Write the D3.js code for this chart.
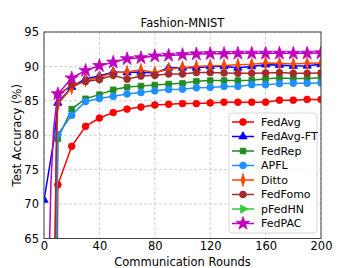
<!DOCTYPE html>
<html><head><meta charset="utf-8">
<script src="https://cdn.jsdelivr.net/npm/d3@7"></script>
<style>body{margin:0;background:#fff}svg{display:block}text{font-family:"DejaVu Sans",sans-serif}</style>
</head><body><svg id="c" width="357" height="268"></svg>
<script>
const title = "Fashion-MNIST";
const xLabel = "Communication Rounds";
const yLabel = "Test Accuracy (%)";
const xTicks = [0, 40, 80, 120, 160, 200];
const yTicks = [65, 70, 75, 80, 85, 90, 95];
const rounds = [0, 3, 5, 7, 9, 10, 20, 30, 40, 50, 60, 70, 80, 90, 100, 110, 120, 130, 140, 150, 160, 170, 180, 190, 200];
const seriesNames = ["FedAvg", "FedAvg-FT", "FedRep", "APFL", "Ditto", "FedFomo", "pFedHN", "FedPAC"];
const fedAvg   = [10, 20, 30, 40, 50, 72.8, 78.4, 81.3, 82.5, 83.3, 83.8, 84.1, 84.4, 84.5, 84.6, 84.6, 84.7, 84.8, 84.8, 84.8, 84.8, 85.1, 85.1, 85.2, 85.2];
const fedAvgFT = [70.6, 74.2, 76.7, 79.1, 82.5, 84.7, 87.0, 88.2, 88.6, 89.2, 89.1, 89.2, 89.0, 89.8, 89.8, 89.8, 90.0, 90.0, 89.8, 90.0, 90.25, 90.2, 90.05, 90.1, 90.3];
const fedRep   = [10, 20, 30, 45, 62, 79.5, 83.8, 85.3, 85.9, 86.6, 87.0, 87.15, 87.3, 87.45, 87.55, 87.85, 87.95, 87.95, 87.95, 88.0, 88.2, 88.3, 88.25, 88.25, 88.35];
const apfl     = [10, 20, 30, 45, 63, 80.1, 82.9, 84.9, 85.35, 85.65, 86.0, 86.2, 86.45, 86.65, 86.7, 86.9, 86.95, 87.1, 87.1, 87.35, 87.35, 87.5, 87.55, 87.55, 87.6];
const ditto    = [10, 20, 30, 50, 78, 84.5, 86.9, 88.0, 88.4, 89.1, 89.2, 89.5, 89.1, 89.6, 89.85, 90.0, 90.1, 90.15, 90.25, 90.3, 90.5, 90.45, 90.35, 90.45, 90.5];
const fedFomo  = [10, 20, 30, 52, 80, 85.8, 87.3, 87.8, 88.1, 88.7, 88.15, 88.6, 88.7, 88.9, 88.9, 89.1, 89.1, 89.05, 89.0, 89.0, 89.05, 89.1, 89.0, 89.0, 89.05];
const pFedHN   = [10, 20, 30, 40, 50, 55, 58, 59, 60, 60, 61, 61, 61, 62, 62, 62, 62, 62, 63, 63, 63, 63, 63, 63, 63];
const fedPAC   = [10, 55, 73, 81, 84.5, 86.0, 88.3, 89.4, 90.1, 90.6, 91.1, 91.25, 91.5, 91.6, 91.7, 91.8, 91.85, 91.85, 91.9, 91.9, 91.9, 91.9, 91.9, 91.9, 91.95];
const colors = ["#ff0000", "#0000ff", "#228b22", "#1e90ff", "#ff4500", "#a52a2a", "#32cd32", "#bf00bf"];
const markers = ["circle", "triangle", "square", "circle", "diamond", "circle", "right", "star"];

const allValues = [fedAvg, fedAvgFT, fedRep, apfl, ditto, fedFomo, pFedHN, fedPAC];
const svg = d3.select("#c");
const m = {l: 44, r: 321, t: 32, b: 238.5};
const x = d3.scaleLinear().domain([0, 200]).range([m.l, m.r]);
const y = d3.scaleLinear().domain([65, 95]).range([m.b, m.t]);

svg.append("defs").append("clipPath").attr("id", "clip")
  .append("rect").attr("x", m.l).attr("y", m.t).attr("width", m.r - m.l).attr("height", m.b - m.t);

// grid
const g = svg.append("g");
g.selectAll(".gx").data(xTicks).join("line")
  .attr("x1", d => x(d)).attr("x2", d => x(d)).attr("y1", m.t).attr("y2", m.b)
  .attr("stroke", "#c4c4c4").attr("stroke-width", 0.8).attr("stroke-dasharray", "3,2");
g.selectAll(".gy").data(yTicks).join("line")
  .attr("x1", m.l).attr("x2", m.r).attr("y1", d => y(d)).attr("y2", d => y(d))
  .attr("stroke", "#c4c4c4").attr("stroke-width", 0.8).attr("stroke-dasharray", "3,2");

// axes labels
const xAxis = d3.axisBottom(x).tickValues(xTicks).tickSize(0).tickPadding(3);
const yAxis = d3.axisLeft(y).tickValues(yTicks).tickSize(0).tickPadding(5);
const ax = svg.append("g").attr("transform", `translate(0,${m.b})`).call(xAxis);
const ay = svg.append("g").attr("transform", `translate(${m.l},0)`).call(yAxis);
[ax, ay].forEach(a => { a.select(".domain").remove(); a.selectAll("text").attr("font-size", 11.5).attr("fill", "#000").attr("font-family", "DejaVu Sans"); });

const symMap = {circle: d3.symbolCircle, triangle: d3.symbolTriangle, square: d3.symbolSquare, diamond: d3.symbolDiamond, star: d3.symbolStar, right: d3.symbolTriangle};
const sizeMap = {circle: 36, triangle: 30, square: 32, diamond: 30, star: 55, right: 30};
function drawMarker(sel, kind, color) {
  const p = sel.append("path").attr("d", d3.symbol().type(symMap[kind]).size(sizeMap[kind])())
    .attr("fill", color).attr("stroke", color).attr("stroke-width", 0.8);
  if (kind === "right") p.attr("transform", "rotate(90)");
  if (kind === "diamond") p.attr("transform", "scale(0.7,1.3)");
  return p;
}

const plot = svg.append("g").attr("clip-path", "url(#clip)");
const line = d3.line().x(d => x(d[0])).y(d => y(d[1]));
allValues.forEach((vals, i) => {
  const pts = rounds.map((r, j) => [r, vals[j]]);
  const sg = plot.append("g");
  sg.append("path").datum(pts).attr("d", line).attr("fill", "none")
    .attr("stroke", colors[i]).attr("stroke-width", 1.5);
  pts.filter(p => p[0] % 10 === 0).forEach(p => {
    const mg = sg.append("g").attr("transform", `translate(${x(p[0])},${y(p[1])})`);
    drawMarker(mg, markers[i], colors[i]);
  });
});

// spines
svg.append("rect").attr("x", m.l).attr("y", m.t).attr("width", m.r - m.l).attr("height", m.b - m.t)
  .attr("fill", "none").attr("stroke", "#444").attr("stroke-width", 1);

// title & labels
svg.append("text").attr("x", (m.l + m.r) / 2).attr("y", 27).attr("text-anchor", "middle")
  .attr("font-size", 11.5).text(title);
svg.append("text").attr("x", (m.l + m.r) / 2).attr("y", 265.5).attr("text-anchor", "middle")
  .attr("font-size", 11.5).text(xLabel);
svg.append("text").attr("transform", `translate(21,${(m.t + m.b) / 2}) rotate(-90)`).attr("text-anchor", "middle")
  .attr("font-size", 11.5).text(yLabel);

// legend
const lg = svg.append("g");
lg.append("rect").attr("x", 229).attr("y", 113).attr("width", 88).attr("height", 120).attr("rx", 3)
  .attr("fill", "#fff").attr("fill-opacity", 0.85).attr("stroke", "#cccccc").attr("stroke-width", 0.8);
seriesNames.forEach((name, i) => {
  const yy = 122 + i * 14.5;
  lg.append("line").attr("x1", 232).attr("x2", 254).attr("y1", yy).attr("y2", yy)
    .attr("stroke", colors[i]).attr("stroke-width", 1.5);
  const mg = lg.append("g").attr("transform", `translate(243,${yy})`);
  drawMarker(mg, markers[i], colors[i]);
  lg.append("text").attr("x", 261).attr("y", yy).attr("dy", "0.35em").attr("font-size", 11).text(name);
});
</script></body></html>
